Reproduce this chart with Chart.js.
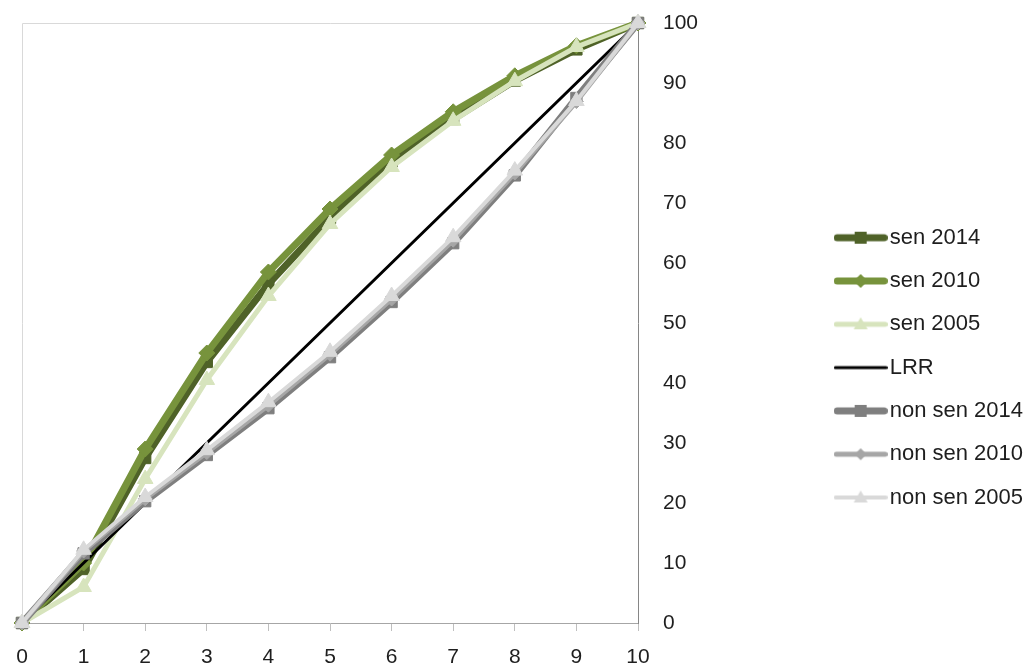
<!DOCTYPE html>
<html>
<head>
<meta charset="utf-8">
<script src="https://cdn.jsdelivr.net/npm/chart.js@4.4.1/dist/chart.umd.min.js"></script>
<style>
  html, body { margin: 0; padding: 0; background: #fff; }
  #wrap { width: 1025px; height: 663px; }
</style>
</head>
<body>
<div id="wrap"><canvas id="chart"></canvas></div>
<script>
// ---------- Data ----------
const deciles = ['0', '1', '2', '3', '4', '5', '6', '7', '8', '9', '10'];

const sen2014 = [0, 9, 27.5, 43.5, 56.5, 67.5, 77, 84, 90.4, 95.6, 100];
const sen2010 = [0, 10, 29, 45, 58.5, 69, 78, 85.2, 91.2, 96.2, 100];
const sen2005 = [0, 6, 24, 40.5, 54.5, 66.5, 76, 83.7, 90.3, 96, 100];
const lrr = [0, 10, 20, 30, 40, 50, 60, 70, 80, 90, 100];
const nonSen2014 = [0, 11.6, 20.3, 28, 35.8, 44.3, 53.5, 63.3, 74.6, 87.5, 100];
const nonSen2010 = [0, 12, 20.7, 28.4, 36.3, 44.8, 54, 63.8, 75, 86.9, 100];
const nonSen2005 = [0, 12.2, 21, 28.8, 36.8, 45.2, 54.5, 64.3, 75.4, 87, 100];

const yTicks = [0, 10, 20, 30, 40, 50, 60, 70, 80, 90, 100];

// ---------- Styles ----------
const series = [
  { label: 'sen 2014', data: sen2014, color: '#4f6228', width: 7, style: 'rect', r: 8 },
  { label: 'sen 2010', data: sen2010, color: '#77933c', width: 7, style: 'rectRot', r: 8 },
  { label: 'sen 2005', data: sen2005, color: '#d7e4bd', width: 5, style: 'triangle', r: 9 },
  { label: 'LRR', data: lrr, color: '#000000', width: 3, style: false, r: 0 },
  { label: 'non sen 2014', data: nonSen2014, color: '#7f7f7f', width: 7, style: 'rect', r: 8 },
  { label: 'non sen 2010', data: nonSen2010, color: '#a6a6a6', width: 5, style: 'rectRot', r: 7 },
  { label: 'non sen 2005', data: nonSen2005, color: '#d9d9d9', width: 4, style: 'triangle', r: 9 }
];

const FONT = { family: '"Liberation Sans", Arial, sans-serif', size: 22 };
const TICK_FONT = { family: '"Liberation Sans", Arial, sans-serif', size: 21 };

// legend sample: a short line with the marker in the middle
function legendIcon(s){
  const c = document.createElement('canvas');
  c.width = 54; c.height = 20;
  const g = c.getContext('2d');
  g.strokeStyle = s.color; g.fillStyle = s.color;
  g.lineWidth = s.width; g.lineCap = 'round';
  g.beginPath(); g.moveTo(s.width/2, 10); g.lineTo(54 - s.width/2, 10); g.stroke();
  const cx = 27, cy = 10;
  g.beginPath();
  if(s.style === 'rect'){
    g.rect(cx - 6, cy - 6, 12, 12);
  } else if(s.style === 'rectRot'){
    const d = s.r - 1;
    g.moveTo(cx, cy - d); g.lineTo(cx + d, cy); g.lineTo(cx, cy + d); g.lineTo(cx - d, cy); g.closePath();
  } else if(s.style === 'triangle'){
    g.moveTo(cx, cy - 7); g.lineTo(cx + 7, cy + 5); g.lineTo(cx - 7, cy + 5); g.closePath();
  }
  if(s.style) g.fill();
  return c;
}
const icons = series.map(legendIcon);

// light frame on the left and top of the plot area
const plotFrame = {
  id: 'plotFrame',
  beforeDatasetsDraw(chart){
    const { ctx, chartArea: a } = chart;
    ctx.save();
    ctx.strokeStyle = '#d9d9d9';
    ctx.lineWidth = 1;
    ctx.beginPath();
    ctx.moveTo(a.left + 0.5, a.bottom);
    ctx.lineTo(a.left + 0.5, a.top + 0.5);
    ctx.lineTo(a.right, a.top + 0.5);
    ctx.stroke();
    ctx.restore();
  }
};

const PLOT_RIGHT = 638;
const PAD_RIGHT = -8;

new Chart(document.getElementById('chart'), {
  type: 'line',
  data: {
    labels: deciles,
    datasets: series.map((s, i) => ({
      label: s.label,
      data: s.data,
      borderColor: s.color,
      backgroundColor: s.color,
      borderWidth: s.width,
      pointStyle: s.style,
      pointRadius: s.r,
      pointBorderWidth: 1,
      pointBackgroundColor: s.color,
      pointBorderColor: s.color,
      tension: 0,
      fill: false,
      clip: false,
      order: series.length - i
    }))
  },
  options: {
    responsive: true,
    maintainAspectRatio: false,
    animation: false,
    layout: { padding: { left: 22, top: 23, right: PAD_RIGHT, bottom: 0 } },
    scales: {
      x: {
        type: 'category',
        offset: false,
        grid: { drawOnChartArea: false, drawTicks: true, tickLength: 8, color: '#bfbfbf' },
        border: { display: true, color: '#a6a6a6', width: 1 },
        ticks: { font: TICK_FONT, color: '#1e1e1e', padding: 14, maxRotation: 0, autoSkip: false },
        afterFit: s => { s.height = 40; s.paddingLeft = 0; s.paddingRight = 0; }
      },
      y: {
        position: 'right',
        min: 0,
        max: 100,
        grid: { display: false },
        border: { display: true, color: '#868686', width: 1 },
        afterBuildTicks: s => { s.ticks = yTicks.map(v => ({ value: v })); },
        ticks: { font: TICK_FONT, color: '#1e1e1e', padding: 17, crossAlign: 'near' },
        afterFit: s => {
          const lw = s.chart.legend ? s.chart.legend.width : 0;
          s.width = s.chart.width - PAD_RIGHT - PLOT_RIGHT - lw;
          s.paddingTop = 0;
          s.paddingBottom = 0;
        }
      }
    },
    plugins: {
      tooltip: { enabled: false },
      legend: {
        position: 'right',
        align: 'start',
        title: { display: true, text: ' ', font: FONT, padding: { top: 156, bottom: 0 } },
        labels: {
          font: FONT,
          color: '#1e1e1e',
          usePointStyle: true,
          pointStyleWidth: 36,
          padding: 21.3,
          generateLabels: chart => chart.data.datasets.map((ds, i) => ({
            text: ds.label,
            pointStyle: icons[i],
            datasetIndex: i,
            hidden: false,
            fontColor: '#1e1e1e',
            lineWidth: 0,
            strokeStyle: 'rgba(0,0,0,0)',
            fillStyle: 'rgba(0,0,0,0)'
          }))
        }
      }
    }
  },
  plugins: [plotFrame]
});
</script>
</body>
</html>
